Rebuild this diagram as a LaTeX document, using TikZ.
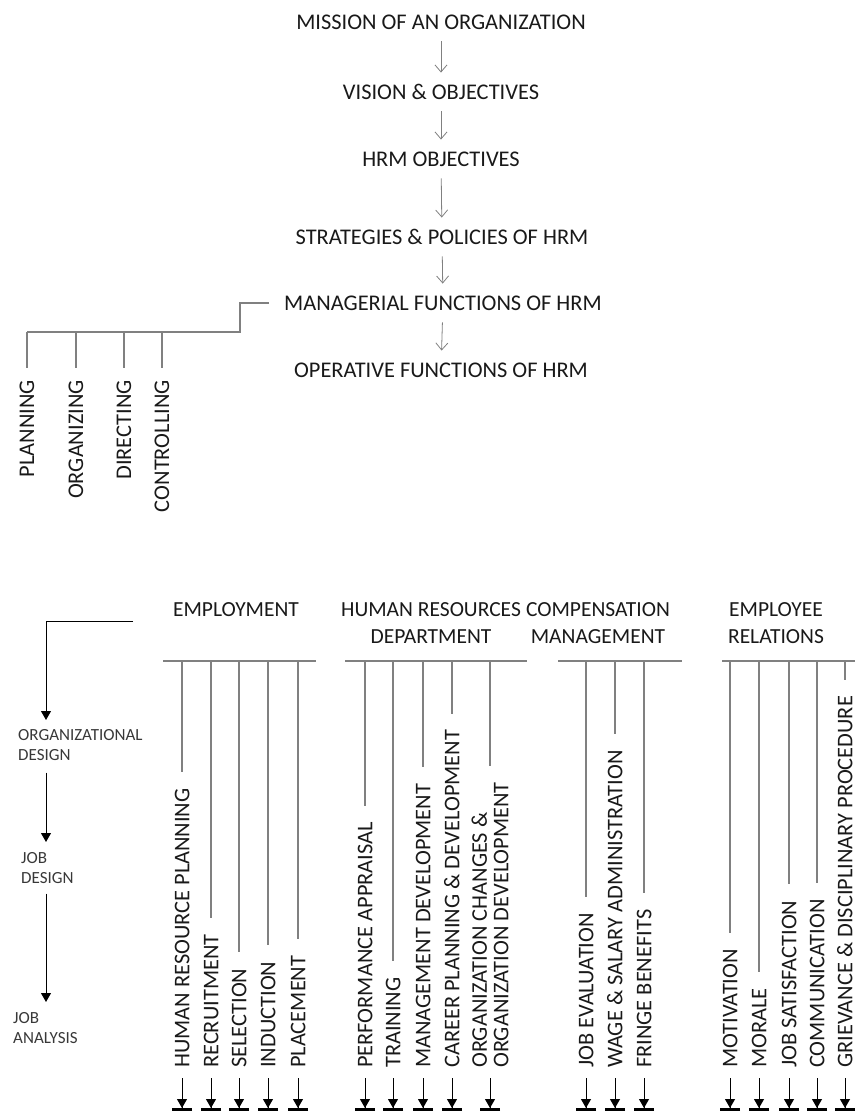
\documentclass[tikz,border=0pt]{standalone}
\usepackage{fontspec}
\setmainfont{Carlito}
\usetikzlibrary{arrows.meta}
\definecolor{txt}{rgb}{0.1,0.1,0.1}
\definecolor{soft}{rgb}{0.22,0.22,0.22}
\definecolor{linegray}{rgb}{0.5,0.5,0.5}
\tikzstyle{title}=[inner sep=0pt, text=txt, text height=14.5pt, text depth=0pt, font=\fontsize{22.4}{26}\selectfont]
\tikzstyle{head}=[inner sep=0pt, text=txt, align=center, font=\fontsize{21.5}{27}\selectfont]
\tikzstyle{item}=[inner sep=0pt, text=txt, rotate=90, font=\fontsize{22.4}{21.5}\selectfont]
\tikzstyle{small}=[inner sep=0pt, text=soft, anchor=north west, align=left, font=\fontsize{17}{20}\selectfont]
\tikzstyle{conn}=[linegray, line width=1.4pt]
\tikzstyle{flow}=[linegray, line width=0.8pt, shorten <=12pt, shorten >=12pt, -{Straight Barb[length=7pt,width=12pt]}]
\tikzstyle{blk}=[black, line width=1pt, -{Triangle[length=9pt,width=10pt]}]
\tikzstyle{endarrow}=[black, line width=1pt, shorten <=10pt, -{Triangle[length=9pt,width=10pt] Bar[width=20pt,line width=3pt]}]

\begin{document}
\begin{tikzpicture}[x=1pt, y=-1pt]
\useasboundingbox (0,0) rectangle (861,1114);
% chain of objectives
\node[title] (mission) at (441,22) {MISSION OF AN ORGANIZATION};
\node[title] (vision) at (441,92) {VISION \& OBJECTIVES};
\node[title] (hrmobj) at (441,159) {HRM OBJECTIVES};
\node[title] (strat) at (442,237) {STRATEGIES \& POLICIES OF HRM};
\node[title] (manag) at (443,303) {MANAGERIAL FUNCTIONS OF HRM};
\node[title] (operat) at (441,370) {OPERATIVE FUNCTIONS OF HRM};
\draw[flow] (mission) -- (vision);
\draw[flow] (vision) -- (hrmobj);
\draw[flow] (hrmobj) -- (strat);
\draw[flow] (strat) -- (manag);
\draw[flow] (manag) -- (operat);

% managerial functions
\coordinate (split) at (240,332);
\node[item, anchor=east] (plan) at (27,380) {PLANNING};
\node[item, anchor=east] (orga) at (76,380) {ORGANIZING};
\node[item, anchor=east] (dire) at (124,380) {DIRECTING};
\node[item, anchor=east] (cont) at (162,380) {CONTROLLING};
\draw[conn] ([xshift=-15pt]manag.west) -| (split) -- (plan.east |- split);
\foreach \n in {plan,orga,dire,cont}
  \draw[conn, shorten >=12pt] (\n.east |- split) -- (\n.east);

% operative functions
\node[head] (employ) at (236,610) {EMPLOYMENT};
\node[head] (hrdept) at (431,623.5) {HUMAN RESOURCES\\DEPARTMENT};
\node[head] (compen) at (598,623.5) {COMPENSATION\\MANAGEMENT};
\node[head] (emprel) at (776,623.5) {EMPLOYEE\\RELATIONS};

\coordinate (bar) at (0,661);
\coordinate (bottom) at (0,1111);
\draw[conn] (163,661) -- (316,661);
\draw[conn] (345,661) -- (527,661);
\draw[conn] (558,661) -- (682,661);
\draw[conn] (722,661) -- (855,661);

\node[item, anchor=west, text height=14.5pt, text depth=0pt] (hrp) at (182,1068) {HUMAN RESOURCE PLANNING};
\node[item, anchor=west, text height=14.5pt, text depth=0pt] (recr) at (211,1068) {RECRUITMENT};
\node[item, anchor=west, text height=14.5pt, text depth=0pt] (sele) at (239,1068) {SELECTION};
\node[item, anchor=west, text height=14.5pt, text depth=0pt] (indu) at (268,1068) {INDUCTION};
\node[item, anchor=west, text height=14.5pt, text depth=0pt] (plac) at (298,1068) {PLACEMENT};

\node[item, anchor=west, text height=14.5pt, text depth=0pt] (perf) at (365,1068) {PERFORMANCE APPRAISAL};
\node[item, anchor=west, text height=14.5pt, text depth=0pt] (trai) at (393,1068) {TRAINING};
\node[item, anchor=west, text height=14.5pt, text depth=0pt] (mdev) at (423,1068) {MANAGEMENT DEVELOPMENT};
\node[item, anchor=west, text height=14.5pt, text depth=0pt] (care) at (452,1068) {CAREER PLANNING \& DEVELOPMENT};
\node[item, anchor=west, align=left] (ochg) at (490,1068) {ORGANIZATION CHANGES \&\\ORGANIZATION DEVELOPMENT};

\node[item, anchor=west, text height=14.5pt, text depth=0pt] (jeva) at (586,1068) {JOB EVALUATION};
\node[item, anchor=west, text height=14.5pt, text depth=0pt] (wage) at (615,1068) {WAGE \& SALARY ADMINISTRATION};
\node[item, anchor=west, text height=14.5pt, text depth=0pt] (frin) at (644,1068) {FRINGE BENEFITS};

\node[item, anchor=west, text height=14.5pt, text depth=0pt] (moti) at (730,1068) {MOTIVATION};
\node[item, anchor=west, text height=14.5pt, text depth=0pt] (mora) at (759,1068) {MORALE};
\node[item, anchor=west, text height=14.5pt, text depth=0pt] (jsat) at (789,1068) {JOB SATISFACTION};
\node[item, anchor=west, text height=14.5pt, text depth=0pt] (comm) at (817,1068) {COMMUNICATION};
\node[item, anchor=west, text height=14.5pt, text depth=0pt] (grie) at (845,1068) {GRIEVANCE \& DISCIPLINARY PROCEDURE};

\foreach \n in {hrp,recr,sele,indu,plac,perf,trai,mdev,care,ochg,jeva,wage,frin,moti,mora,jsat,comm,grie}{
  \draw[conn, shorten >=16pt] (\n.east |- bar) -- (\n.east);
  \draw[endarrow] (\n.west) -- (\n.west |- bottom);
}

% design sequence on the left
\coordinate (colx) at (46,0);
\node[small] (orgdes) at (18,729) {ORGANIZATIONAL\\DESIGN};
\node[small] (jobdes) at (21,852) {JOB\\DESIGN};
\node[small] (jobana) at (13,1012) {JOB\\ANALYSIS};
\draw[blk, shorten >=9pt] (133,621) -| (orgdes.north -| colx);
\draw[blk, shorten <=12pt, shorten >=10pt] (orgdes.south -| colx) -- (jobdes.north -| colx);
\draw[blk, shorten <=10pt, shorten >=10pt] (jobdes.south -| colx) -- (jobana.north -| colx);
\end{tikzpicture}
\end{document}
